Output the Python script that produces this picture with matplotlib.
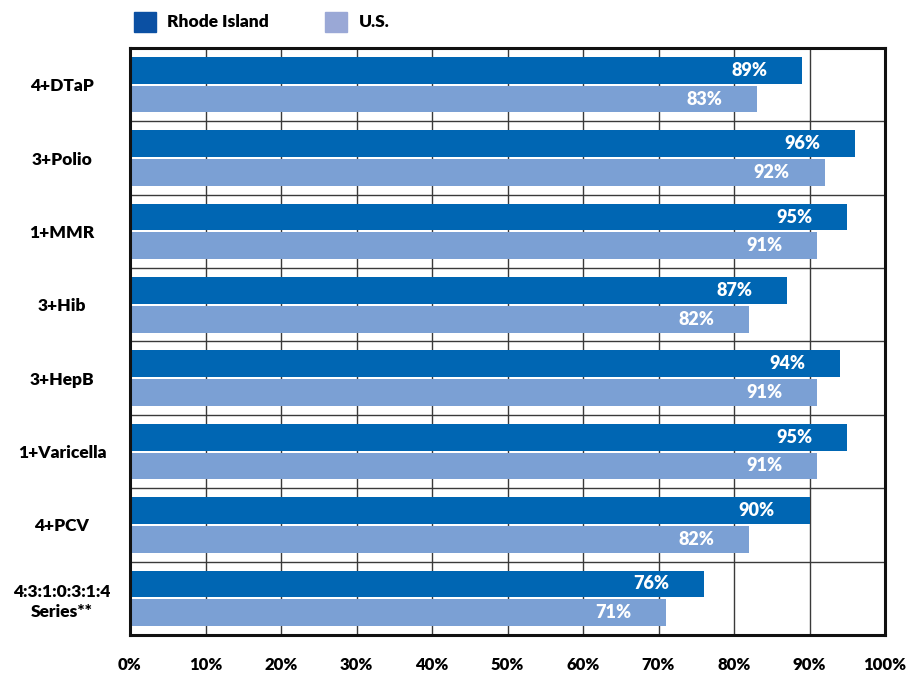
import matplotlib.pyplot as plt
from matplotlib.patches import Patch
import numpy as np

VACCINES = ['4+DTaP', '3+Polio', '1+MMR', '3+Hib', '3+HepB',
            '1+Varicella', '4+PCV', '4:3:1:0:3:1:4\nSeries**']
RHODE_ISLAND = [89, 96, 95, 87, 94, 95, 90, 76]
US = [83, 92, 91, 82, 91, 91, 82, 71]
X_TICKS = [0, 10, 20, 30, 40, 50, 60, 70, 80, 90, 100]

RI_COLOR = '#0066b3'
US_COLOR = '#7ba0d4'
RI_LEGEND_COLOR = '#0b50a3'
US_LEGEND_COLOR = '#9aa8d6'
GRID_COLOR = '#3a3a3a'

FONT = 'Lato'
WEIGHT = 'heavy'
BAR_HEIGHT = 0.365
OFFSET = 0.196


def main():

    fig = plt.figure(figsize=(9.07, 6.74), dpi=100)
    ax = fig.add_axes([130 / 907, 1 - 635 / 674, 755 / 907, 587 / 674])

    centers = np.arange(len(VACCINES)) + 0.5

    ax.barh(centers - OFFSET, RHODE_ISLAND, height=BAR_HEIGHT,
            color=RI_COLOR, zorder=3)
    ax.barh(centers + OFFSET, US, height=BAR_HEIGHT,
            color=US_COLOR, zorder=3)

    # value labels sit inside the bar, a little short of its end
    for c, v in zip(centers, RHODE_ISLAND):
        ax.text(v - 4.6, c - OFFSET, f'{v}%', ha='right', va='center',
                color='white', fontsize=13, fontweight=WEIGHT,
                family=FONT, zorder=4)
    for c, v in zip(centers, US):
        ax.text(v - 4.6, c + OFFSET, f'{v}%', ha='right', va='center',
                color='white', fontsize=13, fontweight=WEIGHT,
                family=FONT, zorder=4)

    ax.set_xlim(0, 100)
    ax.set_ylim(len(VACCINES), 0)

    for x in X_TICKS[1:-1]:
        ax.axvline(x, color=GRID_COLOR, linewidth=1, zorder=1)
    for y in range(1, len(VACCINES)):
        ax.axhline(y, color=GRID_COLOR, linewidth=1, zorder=1)

    ax.set_xticks(X_TICKS)
    ax.set_xticklabels([f'{x}%' for x in X_TICKS], fontsize=12,
                       fontweight=WEIGHT, family=FONT)
    ax.set_yticks(centers)
    ax.set_yticklabels(VACCINES, fontsize=12.5, fontweight=WEIGHT,
                       family=FONT, ha='center', linespacing=1.3)
    ax.tick_params(axis='x', length=0, pad=16)
    ax.tick_params(axis='y', length=0, pad=49)

    for spine in ax.spines.values():
        spine.set_linewidth(2.2)
        spine.set_color('#111111')
        spine.set_zorder(5)

    handles = [Patch(color=RI_LEGEND_COLOR, label='Rhode Island'),
               Patch(color=US_LEGEND_COLOR, label='U.S.')]
    fig.legend(handles=handles, loc='upper left',
               bbox_to_anchor=(118 / 907, 1.006), ncol=2, frameon=False,
               handlelength=1.3, handleheight=1.4, handletextpad=0.65,
               columnspacing=3.2,
               prop={'family': FONT, 'weight': WEIGHT, 'size': 12.5})

    fig.savefig('out.png', dpi=100)


if __name__ == '__main__':
    main()
